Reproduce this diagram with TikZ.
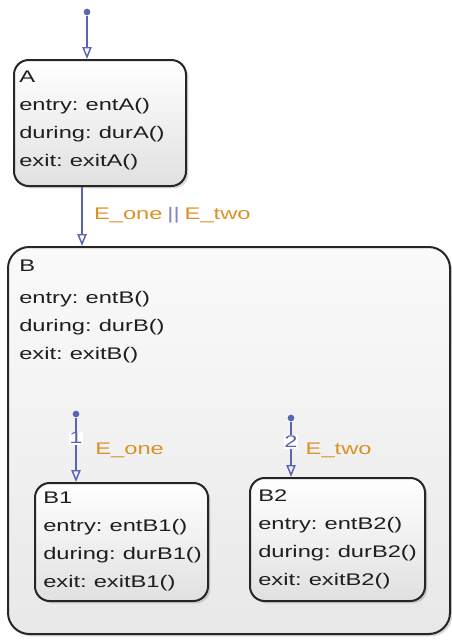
\documentclass[tikz,border=0pt]{standalone}
\usepackage{fontspec}
\setmainfont[FakeStretch=1.41,WordSpace=0.75]{Liberation Sans}
\usetikzlibrary{arrows.meta,shadows}
\definecolor{tblue}{RGB}{88,100,180}
\definecolor{tbar}{RGB}{125,135,195}
\definecolor{torange}{RGB}{218,146,38}
\definecolor{ttext}{RGB}{30,30,30}
\newcommand{\chartfont}{\fontsize{12.6}{21}\selectfont}
\begin{document}
\begin{tikzpicture}[x=0.75pt,y=-0.75pt,
  state/.style={draw=black!85, line width=1.5pt, rounded corners=11pt, inner sep=0,
    top color=white, bottom color=black!12,
    drop shadow={shadow xshift=1.8pt, shadow yshift=-1.8pt, opacity=0.3}},
  actions/.style={anchor=north west, align=left, inner sep=0, text=ttext, font=\chartfont},
  trans/.style={draw=tblue, line width=1.1pt, -{Triangle[open, length=9pt, width=7pt]}},
  dot/.style={circle, fill=tblue, inner sep=0, minimum size=5pt},
  event/.style={anchor=base west, inner sep=0, text=torange, font=\chartfont},
  order/.style={fill=white, inner sep=0.6pt, text=tblue, font=\chartfont}]
\useasboundingbox (0,0) rectangle (452,640);
% states
\node[state, minimum width=129pt, minimum height=94.5pt] (A) at (100,123) {};
\node[state, rounded corners=16pt, top color=black!2, bottom color=black!9,
  minimum width=331.5pt, minimum height=290.25pt] (B) at (229,440.5) {};
\node[state, minimum width=129.75pt, minimum height=88.5pt] (B1) at (121.5,542) {};
\node[state, minimum width=131.25pt, minimum height=92.25pt] (B2) at (337.5,539.5) {};
\node[actions] (Atext) at ([shift={(6,12)}]A.north west)
  {A\\entry: entA()\\during: durA()\\exit: exitA()};
\node[actions] (Btext) at ([shift={(12,14)}]B.north west)
  {B\\[3pt]entry: entB()\\during: durB()\\exit: exitB()};
\node[actions] (B1text) at ([shift={(9,10)}]B1.north west)
  {B1\\entry: entB1()\\during: durB1()\\exit: exitB1()};
\node[actions] (B2text) at ([shift={(9,12)}]B2.north west)
  {B2\\entry: entB2()\\during: durB2()\\exit: exitB2()};
% default transitions
\node[dot] (initA) at (87,12) {};
\node[dot] (initB1) at (76,414) {};
\node[dot] (initB2) at (291,418) {};
\draw[trans] (initA) -- (initA |- A.north);
\draw[trans] (initB1) -- node[order, pos=0.32] {1}
  node[event, pos=0.58, xshift=14pt] {E\_one} (initB1 |- B1.north);
\draw[trans] (initB2) -- node[order, pos=0.37] {2}
  node[event, pos=0.6, xshift=10.5pt] {E\_two} (initB2 |- B2.north);
% A to B
\draw[trans] ([xshift=-13.5pt]A.south) -- node[event, pos=0.557, xshift=8.5pt]
  {E\_one {\color{tbar}||} E\_two} ([xshift=-13.5pt]A.south |- B.north);
\end{tikzpicture}
\end{document}
